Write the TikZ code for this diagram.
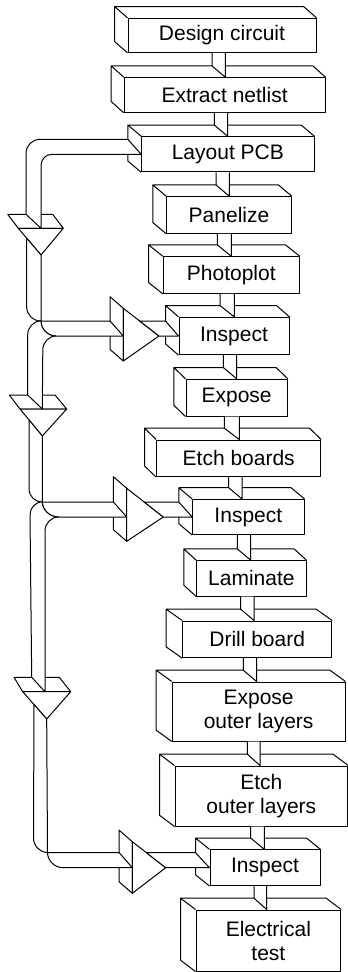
\documentclass[tikz,border=0pt]{standalone}
\usepackage{fontspec}
\setmainfont{Liberation Sans}
\usepackage{tikz}
\usetikzlibrary{calc}

\begin{document}
\begin{tikzpicture}[x=1pt, y=-1pt, line width=1pt, line join=round,
    box/.style={draw, fill=white, inner sep=0pt, align=center, font=\fontsize{21}{24}\selectfont},
    tube/.style={draw, fill=white}]
\useasboundingbox (0,0) rectangle (348,972);

\node[box, minimum width=188, minimum height=34] (design) at (222,35.3) {Design circuit};
\draw (design.south west) -- ++(-13,-11.3) |- ($(design.north east)+(-13,-11.3)$) -- (design.north east) (design.north west) -- ++(-13,-11.3);
\node[box, minimum width=200.7, minimum height=34.6] (extract) at (224.65,95) {Extract netlist};
\draw (extract.south west) -- ++(-12.6,-11.3) |- ($(extract.north east)+(-12.6,-11.3)$) -- (extract.north east) (extract.north west) -- ++(-12.6,-11.3);
\node[box, minimum width=172.3, minimum height=35] (layout) at (227.85,154.3) {Layout PCB};
\draw (layout.south west) -- ++(-13.4,-11.3) |- ($(layout.north east)+(-13.4,-11.3)$) -- (layout.north east) (layout.north west) -- ++(-13.4,-11.3);
\node[box, minimum width=124.6, minimum height=36.6] (panel) at (229,215) {Panelize};
\draw (panel.south west) -- ++(-13.4,-11.3) |- ($(panel.north east)+(-13.4,-11.3)$) -- (panel.north east) (panel.north west) -- ++(-13.4,-11.3);
\node[box, minimum width=136, minimum height=36.6] (photo) at (231.3,275) {Photoplot};
\draw (photo.south west) -- ++(-14.3,-11.3) |- ($(photo.north east)+(-14.3,-11.3)$) -- (photo.north east) (photo.north west) -- ++(-14.3,-11.3);
\node[box, minimum width=110, minimum height=37.3] (insp1) at (234,336) {Inspect};
\draw (insp1.south west) -- ++(-13,-11.3) |- ($(insp1.north east)+(-13,-11.3)$) -- (insp1.north east) (insp1.north west) -- ++(-13,-11.3);
\node[box, minimum width=101.3, minimum height=36.7] (expose) at (236.65,397.65) {Expose};
\draw (expose.south west) -- ++(-11.7,-11.3) |- ($(expose.north east)+(-11.7,-11.3)$) -- (expose.north east) (expose.north west) -- ++(-11.7,-11.3);
\node[box, minimum width=164, minimum height=36.7] (etch) at (238.7,458.35) {Etch boards};
\draw (etch.south west) -- ++(-11.7,-11.3) |- ($(etch.north east)+(-11.7,-11.3)$) -- (etch.north east) (etch.north west) -- ++(-11.7,-11.3);
\node[box, minimum width=111.3, minimum height=35] (insp2) at (248.35,517) {Inspect};
\draw (insp2.south west) -- ++(-13.4,-11.3) |- ($(insp2.north east)+(-13.4,-11.3)$) -- (insp2.north east) (insp2.north west) -- ++(-13.4,-11.3);
\node[box, minimum width=109.3, minimum height=35.3] (lamin) at (251.35,578.35) {Laminate};
\draw (lamin.south west) -- ++(-12.4,-11.3) |- ($(lamin.north east)+(-12.4,-11.3)$) -- (lamin.north east) (lamin.north west) -- ++(-12.4,-11.3);
\node[box, minimum width=149, minimum height=36.7] (drill) at (257.2,639.35) {Drill board};
\draw (drill.south west) -- ++(-16,-11.3) |- ($(drill.north east)+(-16,-11.3)$) -- (drill.north east) (drill.north west) -- ++(-16,-11.3);
\node[box, minimum width=172.7, minimum height=59] (expout) at (258.65,711.5) {Expose\\outer layers};
\draw (expout.south west) -- ++(-15.6,-11.3) |- ($(expout.north east)+(-15.6,-11.3)$) -- (expout.north east) (expout.north west) -- ++(-15.6,-11.3);
\node[box, minimum width=172.7, minimum height=60] (etchout) at (261.35,796) {Etch\\outer layers};
\draw (etchout.south west) -- ++(-15,-11.3) |- ($(etchout.north east)+(-15,-11.3)$) -- (etchout.north east) (etchout.north west) -- ++(-15,-11.3);
\node[box, minimum width=110, minimum height=35.7] (insp3) at (265,867.7) {Inspect};
\draw (insp3.south west) -- ++(-14,-11.3) |- ($(insp3.north east)+(-14,-11.3)$) -- (insp3.north east) (insp3.north west) -- ++(-14,-11.3);
\node[box, minimum width=144.7, minimum height=61] (etest) at (268.35,940.5) {Electrical\\test};
\draw (etest.south west) -- ++(-15,-11.3) |- ($(etest.north east)+(-15,-11.3)$) -- (etest.north east) (etest.north west) -- ++(-15,-11.3);

\draw[tube] (212,0 |- design.south) -- ($(212,0 |- extract.north)+(0,-11.3)$) -- (225.3,0 |- extract.north) -- (225.3,0 |- design.south);
\draw[tube] (214.3,0 |- extract.south) -- ($(214.3,0 |- layout.north)+(0,-11.3)$) -- (227.7,0 |- layout.north) -- (227.7,0 |- extract.south);
\draw[tube] (216,0 |- layout.south) -- ($(216,0 |- panel.north)+(0,-11.3)$) -- (229.3,0 |- panel.north) -- (229.3,0 |- layout.south);
\draw[tube] (217.3,0 |- panel.south) -- ($(217.3,0 |- photo.north)+(0,-11.3)$) -- (231.3,0 |- photo.north) -- (231.3,0 |- panel.south);
\draw[tube] (220,0 |- photo.south) -- ($(220,0 |- insp1.north)+(0,-11.3)$) -- (234.3,0 |- insp1.north) -- (234.3,0 |- photo.south);
\draw[tube] (223.3,0 |- insp1.south) -- ($(223.3,0 |- expose.north)+(0,-11.3)$) -- (236.7,0 |- expose.north) -- (236.7,0 |- insp1.south);
\draw[tube] (224.3,0 |- expose.south) -- ($(224.3,0 |- etch.north)+(0,-11.3)$) -- (239.3,0 |- etch.north) -- (239.3,0 |- expose.south);
\draw[tube] (228.7,0 |- etch.south) -- ($(228.7,0 |- insp2.north)+(0,-11.3)$) -- (242,0 |- insp2.north) -- (242,0 |- etch.south);
\draw[tube] (237.3,0 |- insp2.south) -- ($(237.3,0 |- lamin.north)+(0,-11.3)$) -- (250.7,0 |- lamin.north) -- (250.7,0 |- insp2.south);
\draw[tube] (240.7,0 |- lamin.south) -- ($(240.7,0 |- drill.north)+(0,-11.3)$) -- (254,0 |- drill.north) -- (254,0 |- lamin.south);
\draw[tube] (243.3,0 |- drill.south) -- ($(243.3,0 |- expout.north)+(0,-11.3)$) -- (256.7,0 |- expout.north) -- (256.7,0 |- drill.south);
\draw[tube] (247.3,0 |- expout.south) -- ($(247.3,0 |- etchout.north)+(0,-11.3)$) -- (260,0 |- etchout.north) -- (260,0 |- expout.south);
\draw[tube] (250.7,0 |- etchout.south) -- ($(250.7,0 |- insp3.north)+(0,-11.3)$) -- (264.3,0 |- insp3.north) -- (264.3,0 |- etchout.south);
\draw[tube] (254,0 |- insp3.south) -- ($(254,0 |- etest.north)+(0,-11.3)$) -- (266.7,0 |- etest.north) -- (266.7,0 |- insp3.south);

\coordinate (v1) at (159,336); \coordinate (v2) at (163.3,517); \coordinate (v3) at (165.7,867.7);
\draw[tube] ($(v1)+(-49,-39.3)$) -- ($(v1)+(-35.7,-27.7)$) -- ($(v1)+(-35.7,25)$) -- ($(v1)+(-49,13.4)$) -- cycle;
\draw[tube] ($(v1)+(-35.7,-27.7)$) -- (v1) -- ($(v1)+(-35.7,25)$) -- cycle;
\draw[tube] ($(v2)+(-49.9,-40.3)$) -- ($(v2)+(-36.6,-28.7)$) -- ($(v2)+(-36.6,24.3)$) -- ($(v2)+(-49.9,12.7)$) -- cycle;
\draw[tube] ($(v2)+(-36.6,-28.7)$) -- (v2) -- ($(v2)+(-36.6,24.3)$) -- cycle;
\draw[tube] ($(v3)+(-46.7,-37.6)$) -- ($(v3)+(-33.4,-26)$) -- ($(v3)+(-33.4,25.6)$) -- ($(v3)+(-46.7,14)$) -- cycle;
\draw[tube] ($(v3)+(-33.4,-26)$) -- (v3) -- ($(v3)+(-33.4,25.6)$) -- cycle;
\draw[tube] (139.7,321) -- ($(insp1.west)+(-13,-15)$) -- (insp1.west) -- (v1) -- cycle;
\draw[tube] (144.2,502) -- ($(insp2.west)+(-13.4,-15)$) -- (insp2.west) -- (v2) -- cycle;
\draw[tube] (146.4,852.7) -- ($(insp3.west)+(-14,-15)$) -- (insp3.west) -- (v3) -- cycle;

\coordinate (f1) at (41,255); \coordinate (f2) at (42.3,436); \coordinate (f3) at (46.7,719);
\draw[tube] (7.7,214.3) -- (52.7,214.3) -- (63.3,228.3) -- (18.3,228.3) -- cycle;
\draw[tube] (18.3,228.3) -- (63.3,228.3) -- (f1) -- cycle;
\draw[tube] (9.3,395) -- (55,395) -- (66.7,409) -- (20,409) -- cycle;
\draw[tube] (20,409) -- (66.7,409) -- (f2) -- cycle;
\draw[tube] (14,677.3) -- (59.3,677.3) -- (70.7,691.7) -- (22.7,691.7) -- cycle;
\draw[tube] (22.7,691.7) -- (70.7,691.7) -- (f3) -- cycle;

\draw[tube] ($(layout.west)+(-13.4,-15)$) -- (40,139.3) .. controls (32.3,139.3) and (26,145.6) .. (26,153.3) -- (26,214.3) -- (41,228.3) -- (41,165.3) .. controls (41,159.2) and (45.9,154.3) .. (52,154.3) -- (layout.west) -- cycle;
\draw[tube] (26.7,238.2) -- (26.7,307) .. controls (26.7,314.9) and (33.1,321) .. (41,321) -- (110,321) -- (123.3,336) -- (56,336) .. controls (47.7,336) and (41,329.3) .. (41,321) -- (f1) -- cycle;
\draw[tube] (41,321) .. controls (33.4,321) and (27.7,327.3) .. (27.7,335) -- (27.7,395) -- (42.3,409) -- (42.8,350) .. controls (42.8,342.3) and (48.7,336) .. (56,336) .. controls (47.7,336) and (41,329.3) .. (41,321) -- cycle;
\draw[tube] (29,419.9) -- (29,488.7) .. controls (29,496.4) and (35,502) .. (42.3,502) -- (113.4,502) -- (126.7,517) -- (58.5,517) .. controls (50.2,517) and (42.3,510.3) .. (42.3,502) -- (f2) -- cycle;
\draw[tube] (42.3,502) .. controls (35,502) and (30,508) .. (30,515) -- (31.7,677.3) -- (45,691.7) -- (45,531) .. controls (45,523.5) and (51,517) .. (58.5,517) .. controls (50.2,517) and (42.3,510.3) .. (42.3,502) -- cycle;
\draw[tube] (34,704.5) -- (33.5,838) .. controls (33.5,846) and (40,852.5) .. (47.5,852.5) -- (119,852.5) -- (132.3,867.7) -- (63,867.7) .. controls (54.5,867.7) and (47.5,860.5) .. (47.5,852.5) -- (f3) -- cycle;
\end{tikzpicture}
\end{document}
